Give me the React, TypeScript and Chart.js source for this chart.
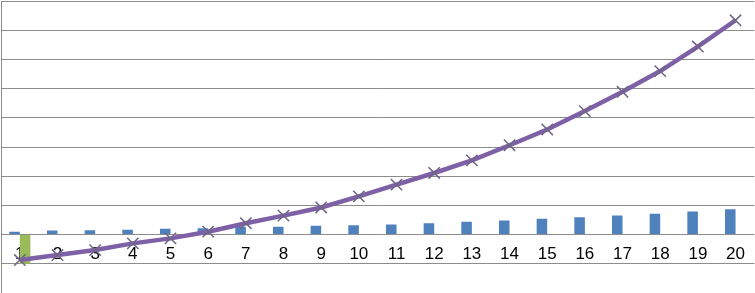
import React, { useEffect, useRef } from "react";
import { Chart, registerables } from "chart.js";

Chart.register(...registerables);

const categories = ["1","2","3","4","5","6","7","8","9","10","11","12","13","14","15","16","17","18","19","20"];
const blueBars = [0.10,0.14,0.15,0.17,0.20,0.22,0.27,0.27,0.30,0.32,0.35,0.39,0.44,0.48,0.54,0.59,0.65,0.71,0.79,0.87];
const greenBars = [-1.0,null,null,null,null,null,null,null,null,null,null,null,null,null,null,null,null,null,null,null];
const lineValues = [-0.87,-0.70,-0.53,-0.30,-0.13,0.10,0.39,0.65,0.93,1.31,1.71,2.11,2.54,3.06,3.60,4.23,4.89,5.60,6.44,7.34];
const yMin = -2;
const yMax = 8;
const yStep = 1;

export default function App() {
  const ref = useRef<HTMLCanvasElement | null>(null);
  useEffect(() => {
    document.body.style.margin = "0";
    const ctx = ref.current!;
    const chart = new Chart(ctx, {
      type: "bar",
      data: {
        labels: categories,
        datasets: [
          {
            type: "line",
            label: "line",
            data: lineValues,
            borderColor: "#7d60a6",
            borderWidth: 4.5,
            pointStyle: "crossRot",
            pointRadius: 8,
            pointBorderColor: "#6e6585",
            pointBorderWidth: 1.5,
            pointBackgroundColor: "transparent",
            tension: 0,
            order: 0,
          } as any,
          {
            label: "blue",
            data: blueBars,
            backgroundColor: "#4f81bd",
            categoryPercentage: 0.56,
            barPercentage: 1,
            order: 1,
          },
          {
            label: "green",
            data: greenBars as any,
            backgroundColor: "#9bbb59",
            categoryPercentage: 0.56,
            barPercentage: 1,
            order: 2,
          },
        ],
      },
      options: {
        responsive: false,
        animation: false,
        layout: { autoPadding: false, padding: { top: 1, left: 1, right: 0, bottom: 0 } },
        plugins: { legend: { display: false }, tooltip: { enabled: false } },
        scales: {
          x: {
            position: { y: 0 } as any,
            grid: { display: false, drawTicks: false },
            border: { display: false },
            ticks: {
              padding: 10,
              color: "#000000",
              font: { family: "'Liberation Sans', Arial, sans-serif", size: 17 },
              maxRotation: 0,
              autoSkip: false,
            },
            afterFit: (s: any) => { s.height = 0; },
          },
          y: {
            min: yMin,
            max: yMax,
            ticks: { display: false, stepSize: yStep },
            grid: { color: "#8c8c8c", lineWidth: 1, drawTicks: false },
            border: { display: true, color: "#8c8c8c", width: 1 },
            afterFit: (s: any) => { s.width = 0; },
          },
        },
      },
    });
    return () => chart.destroy();
  }, []);
  return <canvas ref={ref} width={755} height={293} style={{ display: "block" }} />;
}
